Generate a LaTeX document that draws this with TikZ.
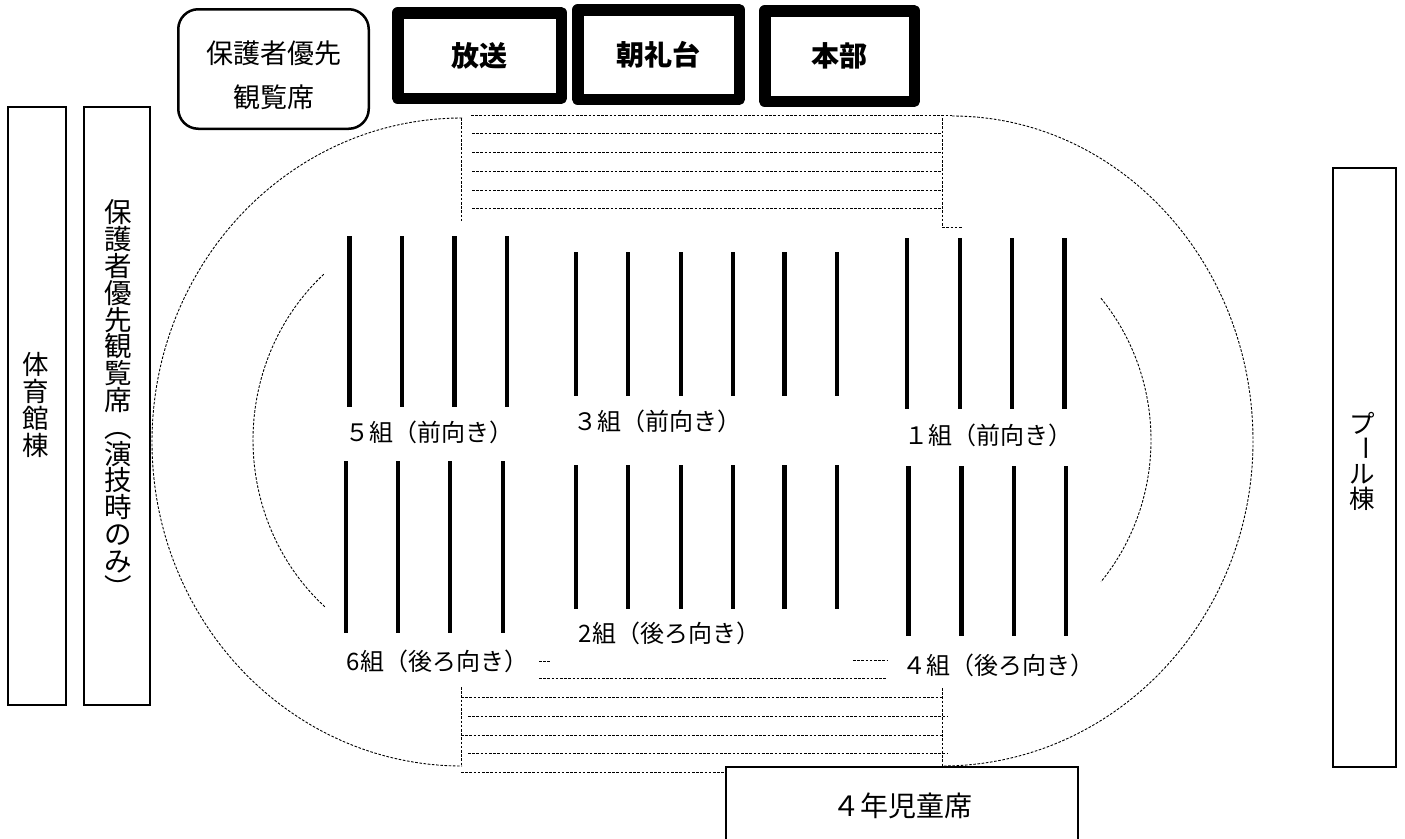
\documentclass[tikz,border=0pt]{standalone}
\usepackage{fontspec}
\usepackage{graphicx}
\setmainfont{Noto Sans CJK JP}
\newcommand{\vchoon}{\raisebox{0.88em}[0.88em][0.12em]{\rotatebox{-90}{ー}}}
\begin{document}
\begin{tikzpicture}[x=1pt,y=-1pt,
  dot/.style={line width=0.9pt, dash pattern=on 2.6pt off 1.6pt, black},
  bar/.style={line width=4.3pt},
  bldg/.style={draw, line width=2pt, inner sep=0pt, outer sep=0pt, fill=white},
  stage/.style={draw, line width=11.5pt, line join=round, inner sep=0pt, outer sep=0pt, fill=white, font=\bfseries\fontsize{28}{28}\selectfont},
  grp/.style={font=\fontsize{24}{24}\selectfont, inner sep=0pt},
  vtext/.style={align=center, inner sep=0pt}
]
\useasboundingbox[fill=white] (0,0) rectangle (1405,838);

% buildings
\node[bldg, minimum width=58pt, minimum height=598pt] (gym) at (37,406) {};
\node[vtext, font=\fontsize{26.5}{27}\selectfont] (gymtxt) at (36,405) {体\\育\\館\\棟};
\node[bldg, minimum width=66pt, minimum height=598pt] (stand) at (117,406) {};
\node[vtext, font=\fontsize{27.5}{26.8}\selectfont] (standtxt) at (118,399) {保\\護\\者\\優\\先\\観\\覧\\席\\︵\\演\\技\\時\\の\\み\\︶};
\node[bldg, minimum width=63pt, minimum height=599pt] (pool) at (1364.5,467.5) {};
\node[vtext, font=\fontsize{25.5}{25}\selectfont] (pooltxt) at (1362,461) {プ\\\vchoon\\ル\\棟};

% top row
\node[draw, line width=2.5pt, rounded corners=20pt, inner sep=0pt, minimum width=190.5pt, minimum height=119.5pt] (pref) at (273.5,69) {};
\node[vtext, font=\fontsize{27}{44}\selectfont] (preftxt) at (273.5,75) {保護者優先\\観覧席};
\node[stage, minimum width=163.5pt, minimum height=85.5pt] (hoso) at (479.5,55.5) {放送};
\node[stage, minimum width=161.5pt, minimum height=89.5pt] (chorei) at (658.5,54.5) {朝礼台};
\node[stage, minimum width=149.5pt, minimum height=90.5pt] (honbu) at (839.5,56) {本部};

% outer track
\draw[dot] (462,118) .. controls (290.8,118) and (152,263) .. (152,442)
  .. controls (152,621) and (290.8,766) .. (462,766);
\draw[dot] (952,116) .. controls (1118,116) and (1253,261.5) .. (1253,441)
  .. controls (1253,620.5) and (1114,766) .. (942,766);
% inner arcs
\draw[dot] plot[domain=131:229, samples=60, smooth, variable=\t] ({462+209*cos(\t)}, {440+221*sin(\t)});
\draw[dot] plot[domain=-40.8:40.8, samples=50, smooth, variable=\t] ({945+206*cos(\t)}, {440+217*sin(\t)});

% top band
\draw[dot] (471,115.5) -- (952,115.5);
\foreach \y in {133.3,152.3,171,190,208.3} \draw[dot] (472,\y) -- (942,\y);
\draw[dot] (461.7,118) -- (461.7,222);
\draw[dot] (942,118) -- (942,227) -- (963,227);

% bottom band
\draw[dot] (539,661) -- (551,661);
\draw[dot] (853,660) -- (887,660);
\draw[dot] (539,678) -- (887,678);
\draw[dot] (461,697.5) -- (942,697.5);
\draw[dot] (468,716) -- (947,716);
\draw[dot] (461,735) -- (942,735);
\draw[dot] (468,753.3) -- (947,753.3);
\draw[dot] (461,772) -- (900,772);
\draw[dot] (461.5,687) -- (461.5,766);
\draw[dot] (942,688) -- (942,767);

% seat rows
\foreach \x in {349.6,401.8,454.6,506.8} \draw[bar] (\x,236) -- (\x,407);
\foreach \x in {575.7,627.9,680.7,732.9,784.6,836.8} \draw[bar] (\x,252) -- (\x,396);
\foreach \x in {906.8,959.9,1011.9,1064.6} \draw[bar] (\x,238) -- (\x,409);
\foreach \x in {345.7,397.9,450,502.9} \draw[bar] (\x,461) -- (\x,633);
\foreach \x in {575.7,627.9,680.7,732.9,784.6,836.8} \draw[bar] (\x,465) -- (\x,609);
\foreach \x in {908.5,961.5,1014.2,1066.2} \draw[bar] (\x,466) -- (\x,636);

% group labels
\node[grp] (g5) at (429.5,432) {５組（前向き）};
\node[grp] (g3) at (657.5,421) {３組（前向き）};
\node[grp] (g1) at (988.5,435) {１組（前向き）};
\node[grp] (g6) at (437.5,661) {6組（後ろ向き）};
\node[grp] (g2) at (669.5,633) {2組（後ろ向き）};
\node[grp] (g4) at (998.5,665) {４組（後ろ向き）};

% 4th grade seats
\node[draw, line width=1.5pt, fill=white, inner sep=0pt, minimum width=352pt, minimum height=78pt, font=\fontsize{28}{28}\selectfont] (yonen) at (902,806) {４年児童席};
\end{tikzpicture}
\end{document}
